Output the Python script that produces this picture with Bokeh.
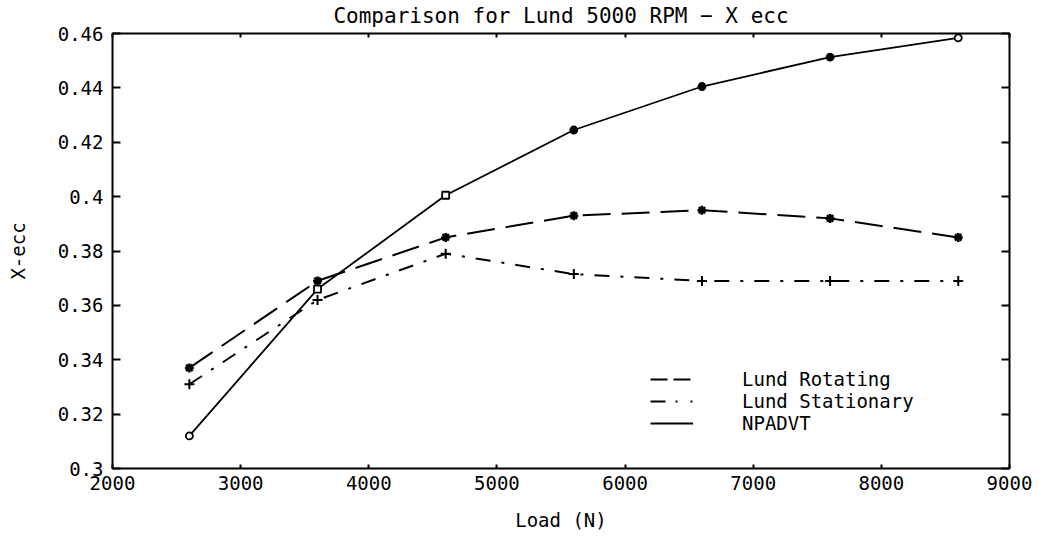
from bokeh.plotting import figure
from bokeh.models import (ColumnDataSource, FixedTicker, CustomJSTickFormatter, LinearAxis,
                          Legend, LegendItem, Range1d)
from bokeh.embed import file_html
from bokeh.resources import INLINE

# ---- data ----
load = [2600, 3600, 4600, 5600, 6600, 7600, 8600]
lund_rotating = [0.337, 0.369, 0.385, 0.393, 0.395, 0.392, 0.385]
lund_stationary = [0.331, 0.362, 0.379, 0.3715, 0.369, 0.369, 0.369]
npadvt = [0.312, 0.366, 0.4005, 0.4245, 0.4405, 0.4513, 0.4584]
x_ticks = [2000, 3000, 4000, 5000, 6000, 7000, 8000, 9000]
y_ticks = [0.3, 0.32, 0.34, 0.36, 0.38, 0.4, 0.42, 0.44, 0.46]
title_text = "Comparison for Lund 5000 RPM \u2212 X ecc"
x_label = "Load (N)"
y_label = "X-ecc"
series_names = ["Lund Rotating", "Lund Stationary", "NPADVT"]

# ---- styles ----
FONT = "DejaVu Sans Mono"
npadvt_marker_style = ["circle", "square", "square", "circle", "circle", "circle", "circle"]
npadvt_fill_style = ["white", "white", "white", "black", "black", "black", "white"]

p = figure(width=1045, height=538, output_backend="svg", toolbar_location=None,
           x_range=Range1d(2000, 9000), y_range=Range1d(0.3, 0.46),
           min_border_left=112, min_border_right=36, min_border_top=33, min_border_bottom=70)

p.title.text = title_text
p.title.align = "center"
p.title.text_font = FONT
p.title.text_font_size = "21px"
p.title.text_font_style = "normal"
p.title.text_color = "black"
p.title.standoff = 7
p.title.vertical_align = "top"

p.grid.visible = False
p.outline_line_color = "black"
p.outline_line_width = 2
p.background_fill_color = "white"
p.border_fill_color = "white"

fmt = CustomJSTickFormatter(code="return String(tick);")
blank_fmt = CustomJSTickFormatter(code="return '';")

def style_axis(ax, ticks, tick_in, show_labels):
    ax.ticker = FixedTicker(ticks=ticks)
    ax.formatter = fmt if show_labels else blank_fmt
    ax.major_tick_in = tick_in
    ax.major_tick_out = 0
    ax.minor_tick_line_color = None
    ax.major_tick_line_color = "black"
    ax.major_tick_line_width = 2
    ax.axis_line_color = None
    ax.major_label_text_font = FONT
    ax.major_label_text_font_size = "19px"
    ax.major_label_text_color = "black"
    ax.axis_label_text_font = FONT
    ax.axis_label_text_font_size = "19px"
    ax.axis_label_text_font_style = "normal"
    ax.axis_label_text_color = "black"
    if not show_labels:
        ax.major_label_standoff = 0

xa = p.xaxis[0]
ya = p.yaxis[0]
style_axis(xa, x_ticks, 4, True)
style_axis(ya, y_ticks, 8, True)
xa.axis_label = x_label
ya.axis_label = y_label
xa.major_label_standoff = 7
xa.axis_label_standoff = 16
ya.major_label_standoff = 9
ya.axis_label_standoff = 26

top = LinearAxis()
style_axis(top, x_ticks, 4, False)
p.add_layout(top, "above")
right = LinearAxis()
style_axis(right, y_ticks, 8, False)
p.add_layout(right, "right")

# ---- lines ----
src_r = ColumnDataSource(dict(x=load, y=lund_rotating))
src_s = ColumnDataSource(dict(x=load, y=lund_stationary))
src_n = ColumnDataSource(dict(x=load, y=npadvt, m=npadvt_marker_style, f=npadvt_fill_style))

p.line("x", "y", source=src_r, line_color="black", line_width=2, line_dash="28 11")
p.line("x", "y", source=src_s, line_color="black", line_width=2, line_dash="15 11 3 11")
p.line("x", "y", source=src_n, line_color="black", line_width=1.8)

p.scatter("x", "y", source=src_r, marker="asterisk", size=9, line_color="black", line_width=2.5)
p.scatter("x", "y", source=src_s, marker="cross", size=10, line_color="black", line_width=2)
p.scatter("x", "y", source=src_n, marker="m", size=7, line_color="black", line_width=1.8,
          fill_color="f")

# legend-only renderers: NaN y values so nothing is drawn in the plot itself,
# while the legend shows the dash patterns of the reference's key
nan_src = ColumnDataSource(dict(x=load, y=[float("nan")] * len(load)))
lr = p.line("x", "y", source=nan_src, line_color="black", line_width=2, line_dash="17 6")
ls = p.line("x", "y", source=nan_src, line_color="black", line_width=2, line_dash="15 10 2 13 2")
ln = p.line("x", "y", source=nan_src, line_color="black", line_width=2)

legend = Legend(items=[LegendItem(label=series_names[0], renderers=[lr]),
                       LegendItem(label=series_names[1], renderers=[ls]),
                       LegendItem(label=series_names[2], renderers=[ln])],
                location=(538, 34), orientation="vertical")
legend.border_line_color = None
legend.background_fill_alpha = 0
legend.padding = 0
legend.margin = 0
legend.spacing = -2
legend.glyph_width = 43
legend.glyph_height = 20
legend.label_standoff = 49
legend.label_text_font = FONT
legend.label_text_font_size = "19px"
legend.label_text_color = "black"
legend.label_height = 20
p.add_layout(legend, "center")

open("out.html", "w").write(file_html(p, INLINE))
